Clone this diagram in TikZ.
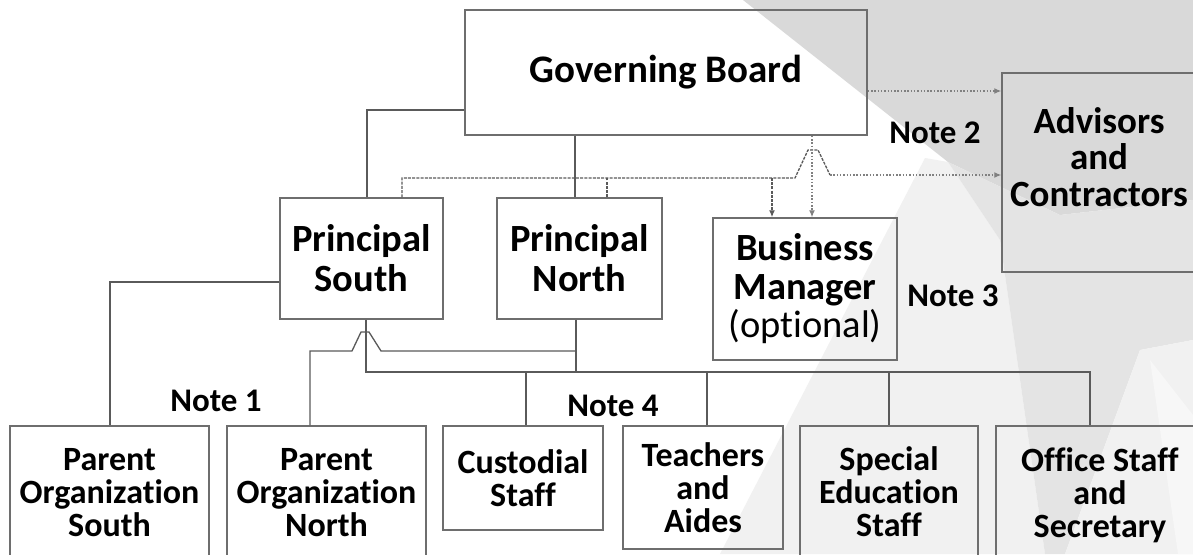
\documentclass[tikz,border=0pt]{standalone}
\usepackage{fontspec}
\setmainfont{Carlito}[Ligatures=NoCommon]
\usetikzlibrary{arrows.meta}
\definecolor{boxgray}{HTML}{6E6E6E}
\definecolor{linegray}{HTML}{5A5A5A}
\definecolor{bgdark}{HTML}{D9D9D9}
\definecolor{bgmid}{HTML}{E4E4E4}
\definecolor{bglight}{HTML}{F1F1F1}
\definecolor{bgpale}{HTML}{F7F7F7}
\begin{document}
\begin{tikzpicture}[x=1pt,y=-1pt,
  box/.style={draw=boxgray, line width=1.5pt, inner sep=0pt, align=center},
  big/.style={font=\bfseries\fontsize{38.5}{40}\selectfont},
  bmfont/.style={font=\bfseries\fontsize{38.5}{38.5}\selectfont},
  advfont/.style={font=\bfseries\fontsize{37}{36.5}\selectfont, align=center, inner sep=0pt},
  small/.style={font=\bfseries\fontsize{34}{33}\selectfont},
  smalltxt/.style={font=\bfseries\fontsize{34}{33}\selectfont, align=center, inner sep=0pt},
  note/.style={font=\bfseries\fontsize{33}{33}\selectfont, inner sep=0pt},
  conn/.style={draw=linegray, line width=1.3pt},
  dashln/.style={draw=linegray, line width=1.3pt, dash pattern=on 3pt off 1.2pt},
  dotln/.style={draw=gray, line width=1.2pt, dash pattern=on 1.5pt off 1.8pt},
  tip/.style={-{Latex[length=7pt,width=6pt]}}]
\useasboundingbox (0,0) rectangle (1193,554);
\clip (0,0) rectangle (1193,554);
\fill[white] (0,0) rectangle (1193,554);
% background facets
\fill[bglight] (720,554) -- (925,158) -- (948,162) -- (1000,240) -- (1045,554) -- cycle;
\fill[bgdark] (743,0) -- (1193,0) -- (1193,200) -- (1060,215) -- (948,162) -- cycle;
\fill[bgmid] (948,162) -- (1060,215) -- (1193,200) -- (1193,340) -- (1140,350) -- (1065,554) -- (1045,554) -- (1000,240) -- cycle;
\fill[bglight] (1140,350) -- (1193,340) -- (1193,554) -- (1065,554) -- cycle;
\fill[bgpale] (1150,360) -- (1193,415) -- (1193,554) -- (1178,554) -- cycle;
% boxes
\node[box, font=\bfseries\fontsize{39}{40}\selectfont, minimum width=402pt, minimum height=125pt] (gb) at (666,72.5) {Governing Board};
\node[box, big, minimum width=163pt, minimum height=121pt] (ps) at (361.5,258.5) {Principal\\South};
\node[box, big, minimum width=165pt, minimum height=121pt] (pn) at (579.5,258.5) {Principal\\North};
\node[box, bmfont, minimum width=184pt, minimum height=142pt] (bm) at (805,289) {Business\\Manager\\{\mdseries (optional)}};
\node[box, minimum width=200pt, minimum height=199pt] (adv) at (1102,172.5) {};
\node[advfont] (advt) at (1099,157) {Advisors\\and\\Contractors};
\node[box, minimum width=199pt, minimum height=154pt] (pos) at (109.5,503) {};
\node[smalltxt] (post) at (109.5,493) {Parent\\Organization\\South};
\node[box, minimum width=199pt, minimum height=154pt] (pon) at (326.5,503) {};
\node[smalltxt] (pont) at (326.5,493) {Parent\\Organization\\North};
\node[box, small, minimum width=160pt, minimum height=104pt] (cs) at (523,478) {Custodial\\Staff};
\node[box, small, minimum width=160pt, minimum height=123pt] (ta) at (703,487.5) {Teachers\\and\\Aides};
\node[box, minimum width=178pt, minimum height=154pt] (se) at (889,503) {};
\node[smalltxt] (set) at (889,492) {Special\\Education\\Staff};
\node[box, minimum width=214pt, minimum height=154pt] (os) at (1103,503) {};
\node[smalltxt] (ost) at (1100,495.5) {Office Staff\\and\\Secretary};
% notes
\node[note] (n1) at (216,401) {Note 1};
\node[note] (n2) at (935,133) {Note 2};
\node[note] (n3) at (953,296) {Note 3};
\node[note] (n4) at (613,406) {Note 4};
% upper connectors
\draw[conn] (gb.west |- 0,110) -| (ps.north -| 367,0);
\draw[conn] (gb.south -| 575,0) -- (pn.north -| 575,0);
\coordinate (hopA) at (795,178);
\draw[dashln] (ps.north -| 402,0) -- (402,178) -- (hopA) -- (808,150) -- (818,150) -- (830,175);
\draw[dotln, tip] (830,175) -- (adv.west |- 0,175);
\draw[dashln] (pn.north -| 607,0) -- (607,178);
\draw[dashln, tip] (772,178) -- (bm.north -| 772,0);
\draw[dotln, tip] (gb.south -| 812,0) -- (bm.north -| 812,0);
\draw[dotln, tip] (gb.east |- 0,91) -- (adv.west |- 0,91);
% lower connectors
\draw[conn] (ps.west |- 0,282) -| (pos.north -| 110,0);
\draw[conn] (ps.south -| 366,0) -- (366,372) -| (os.north -| 1090,0);
\draw[conn] (pn.south -| 576,0) -- (576,372);
\draw[conn] (pon.north -| 310,0) -- (310,351) -- (352,351) -- (361,332) -- (369,332) -- (381,351) -- (576,351);
\draw[conn] (526,372) -- (cs.north -| 526,0);
\draw[conn] (707,372) -- (ta.north -| 707,0);
\draw[conn] (889,372) -- (se.north);
\end{tikzpicture}
\end{document}
